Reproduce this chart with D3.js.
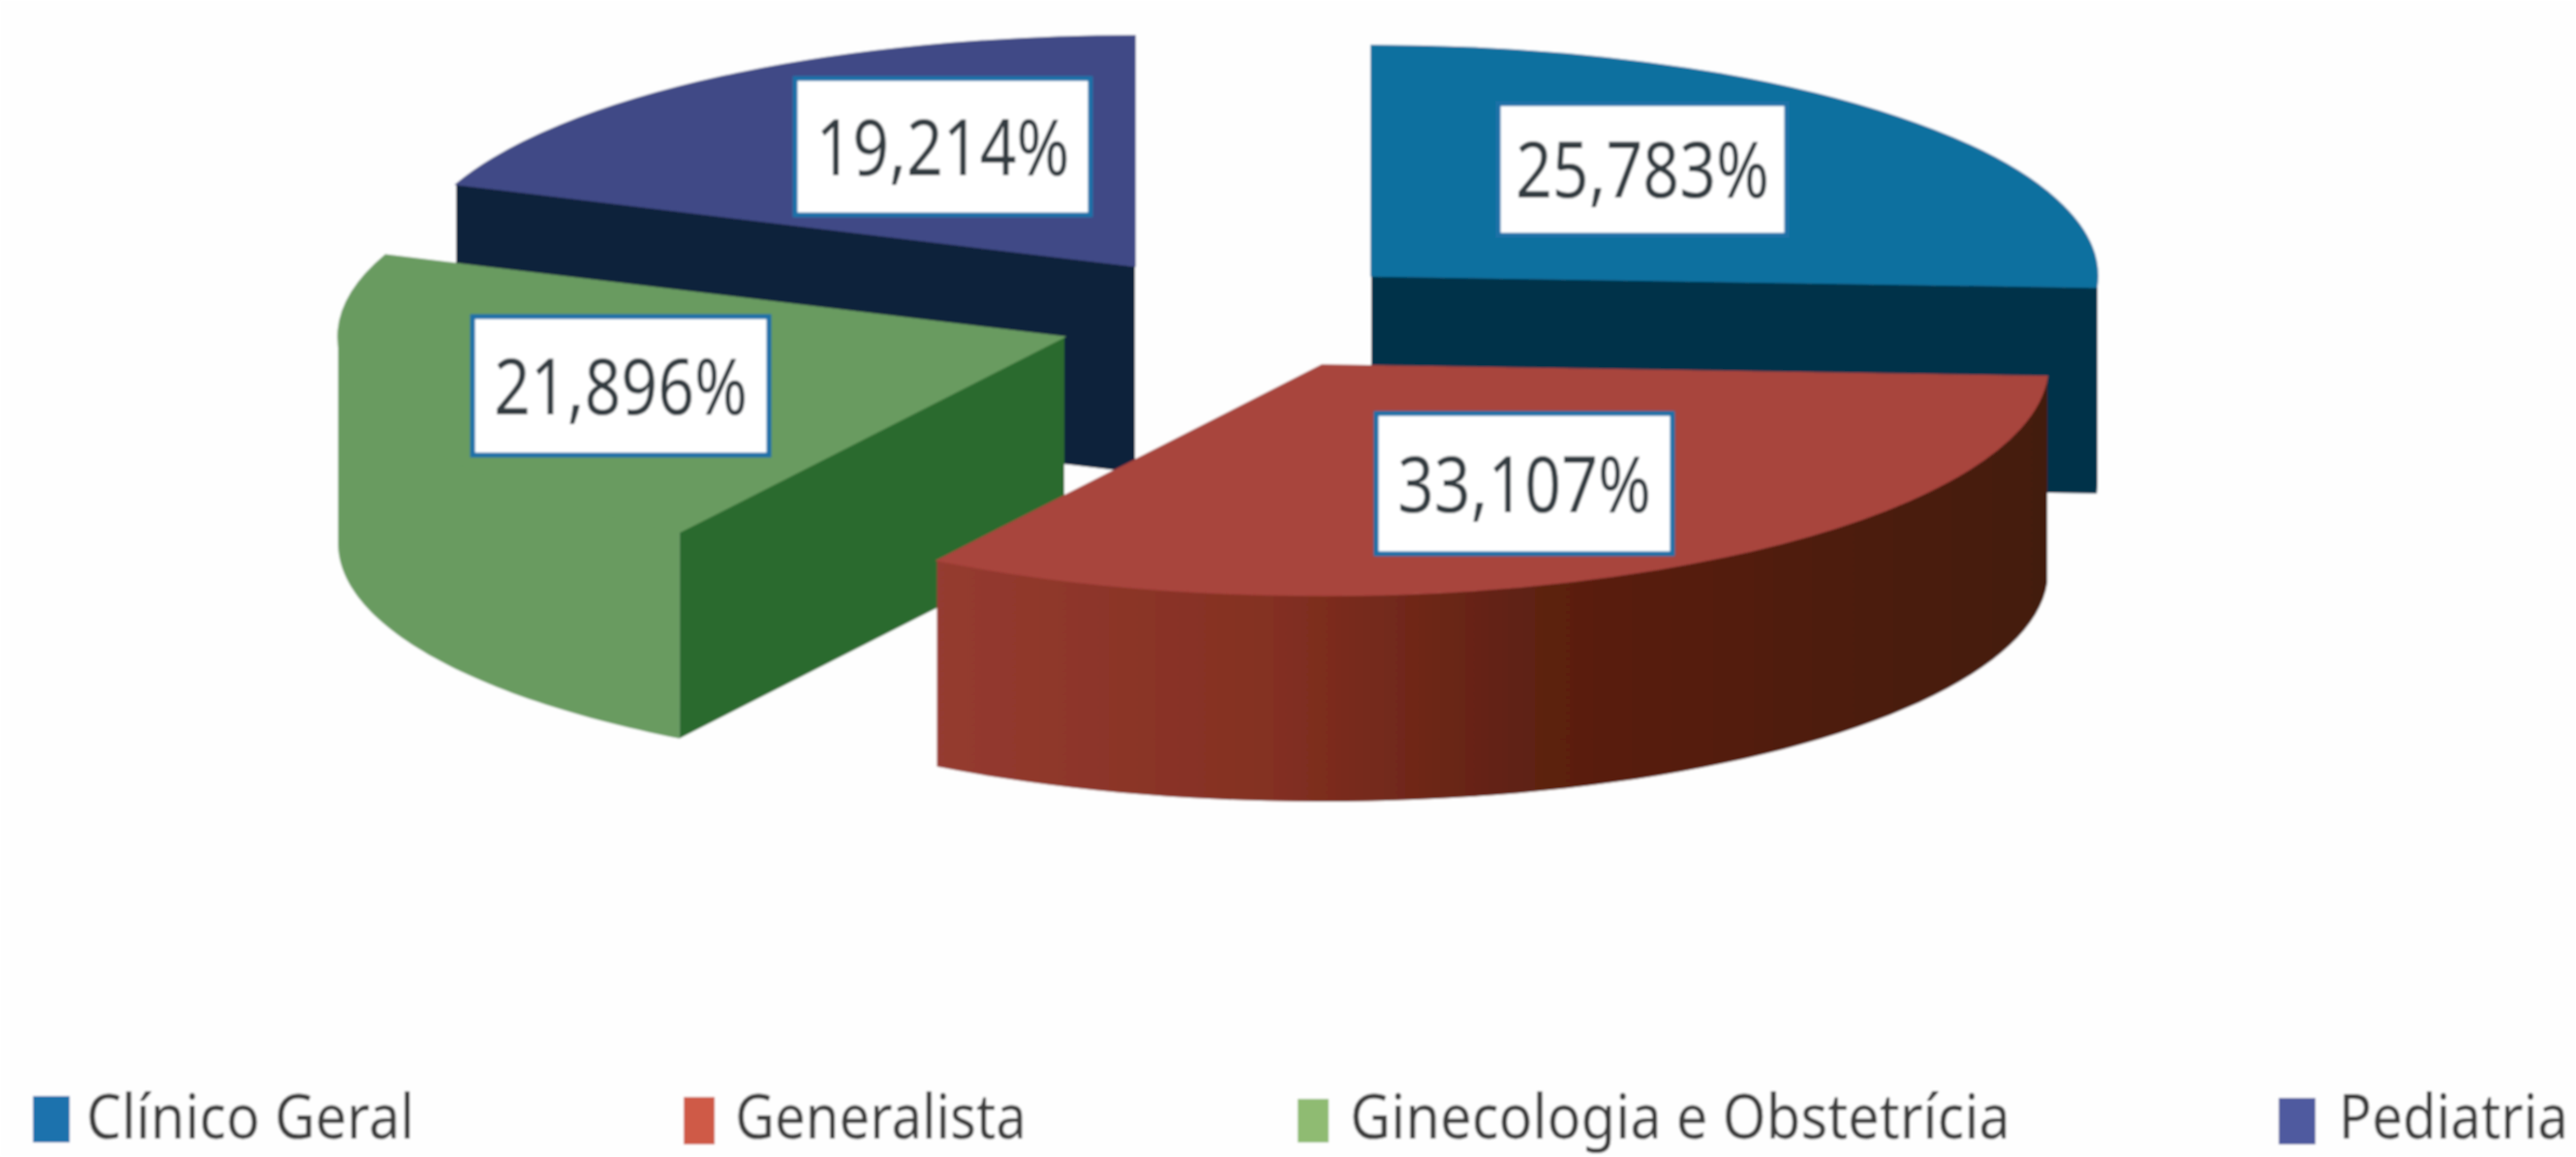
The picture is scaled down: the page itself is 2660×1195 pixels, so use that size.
<!DOCTYPE html>
<html><head><meta charset="utf-8">
<script src="https://cdnjs.cloudflare.com/ajax/libs/d3/7.8.5/d3.min.js"></script>
<style>html,body{margin:0;padding:0;background:#fefefe}svg{display:block}</style>
</head><body><svg id="c" width="2660" height="1195"></svg>
<script>
const categories = ["Clínico Geral", "Generalista", "Ginecologia e Obstetrícia", "Pediatria"];
const values = [25.783, 33.107, 21.896, 19.214];
const labels = ["25,783%", "33,107%", "21,896%", "19,214%"];
const topColors = ["#11709f", "#a8443c", "#699b60", "#3f4986"];
const wallColors = ["#022f45", "url(#redWall)", "#699b60", "#10203b"];
const faceColors = ["#02304a", "#4a1c0c", "#2b6a2d", "#10203b"];
const legendColors = ["#1a72ad", "#cf5a47", "#8fbb72", "#4f5a9f"];

// layout (exploded slice centres, label boxes, legend placement)
const centers = [[1416,285],[1365,377],[1099,348],[1172,275]];
const boxes = [[1547,107,298,136],[1421,427,306,145],[488,327,306,143],[821,81,305,141]];
const legendSwatch = [[34,1132,38,48],[706,1133,32,49],[1340,1135,32,45],[2353,1134,38,48]];
const legendText = [[89,339],[759,301],[1394,682],[2415,237]];
const RX = 750, RY = 238, DEPTH = 213;

const svg = d3.select("#c");
const defs = svg.append("defs");
defs.append("filter").attr("id","soft").append("feGaussianBlur").attr("stdDeviation",0.9);
const g0 = defs.append("linearGradient").attr("id","redWall").attr("gradientUnits","userSpaceOnUse")
  .attr("x1",967).attr("x2",2114).attr("y1",0).attr("y2",0);
[[0,"#953b30"],[0.3,"#843022"],[0.55,"#5c2011"],[1,"#431a0b"]].forEach(s=>g0.append("stop").attr("offset",s[0]).attr("stop-color",s[1]));

const root = svg.append("g").attr("filter","url(#soft)");
root.append("rect").attr("width",2660).attr("height",1195).attr("fill","#fefefe");

const pie = d3.pie().sort(null).value(d=>d);
const arcs = pie(values);
const arc = d3.arc().innerRadius(0).outerRadius(RX);
const px = (i,a)=>centers[i][0]+RX*Math.sin(a);
const py = (i,a)=>centers[i][1]-RY*Math.cos(a);
const line = d3.line();

// painter's order: back slices first
[3,0,2,1].forEach(i=>{
  const A = arcs[i], a0=A.startAngle, a1=A.endAngle, [cx,cy]=centers[i];
  const g = root.append("g");
  // outer wall on the front half of the ellipse
  const lo = Math.max(a0,Math.PI/2), hi = Math.min(a1,3*Math.PI/2);
  if (hi>lo){
    const angs = d3.range(0,61).map(k=>lo+(hi-lo)*k/60);
    const pts = angs.map(a=>[px(i,a),py(i,a)]).concat(angs.slice().reverse().map(a=>[px(i,a),py(i,a)+DEPTH]));
    g.append("path").attr("d",line(pts)+"Z").attr("fill",wallColors[i]);
  }
  // radial faces that look toward the viewer
  [[a0,Math.sin(a0)<-1e-6],[a1,Math.sin(a1)>1e-6]].forEach(([a,vis])=>{
    if(!vis) return;
    const pts=[[cx,cy],[px(i,a),py(i,a)],[px(i,a),py(i,a)+DEPTH],[cx,cy+DEPTH]];
    g.append("path").attr("d",line(pts)+"Z").attr("fill",faceColors[i]);
  });
  // top face: circular d3 arc squashed to an ellipse
  g.append("path").attr("d",arc(A))
    .attr("transform",`translate(${cx},${cy}) scale(1,${RY/RX})`).attr("fill",topColors[i])
    .attr("stroke",topColors[i]).attr("stroke-width",1.5).attr("vector-effect","non-scaling-stroke");
});

// text squeezed horizontally to the width it has in the reference
function fit(sel, x, y, width){
  const natural = sel.node().getComputedTextLength();
  sel.attr("transform",`translate(${x},${y}) scale(${width/natural},1)`);
}

// value labels
labels.forEach((t,i)=>{
  const [x,y,w,h]=boxes[i];
  root.append("rect").attr("x",x).attr("y",y).attr("width",w).attr("height",h)
    .attr("fill","#ffffff").attr("stroke","#1f71a8").attr("stroke-width",5);
  const s = root.append("text").attr("text-anchor","middle")
    .attr("font-family","'Noto Sans'").attr("font-size",80).attr("fill","#333a40").text(t);
  fit(s, x+w/2, y+h/2+29, 262);
});

// legend
categories.forEach((c,i)=>{
  const [x,y,w,h]=legendSwatch[i];
  root.append("rect").attr("x",x).attr("y",y).attr("width",w).attr("height",h).attr("fill",legendColors[i]);
  const s = root.append("text")
    .attr("font-family","'Noto Sans'").attr("font-size",64).attr("fill","#3a3a3a").text(c);
  fit(s, legendText[i][0], 1176, legendText[i][1]);
});
</script></body></html>
